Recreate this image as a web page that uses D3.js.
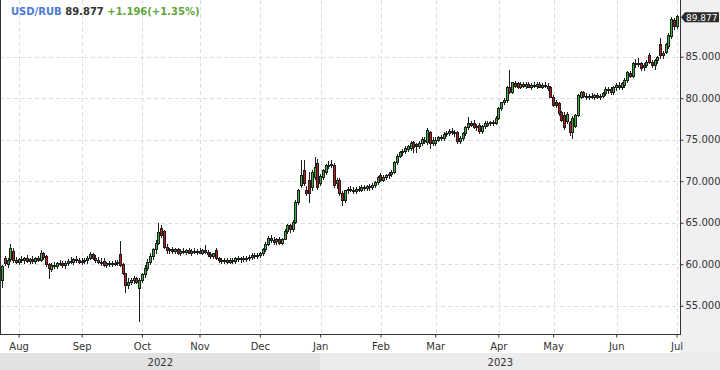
<!DOCTYPE html>
<html><head><meta charset="utf-8">
<script src="https://cdn.jsdelivr.net/npm/d3@7"></script>
<style>
body{margin:0;background:#fff;}
svg{display:block;font-family:"DejaVu Sans",Verdana,sans-serif;}
</style></head><body>
<svg id="chart" width="720" height="370"></svg>
<script>
// ---------- DATA ----------
const symbol = "USD/RUB";
const lastPrice = 89.877;
const changeText = "+1.196(+1.35%)";
const monthLabels = ["Aug","Sep","Oct","Nov","Dec","Jan","Feb","Mar","Apr","May","Jun","Jul"];
const yearLabels = ["2022","2023"];
const yTicks = [55,60,65,70,75,80,85];
const firstDay = "2022-07-22";

// daily candles [open, high, low, close], grouped by month (weekdays)
const jul22 = [[58.1,59.9,57.3,59.8],[60.7,61.0,59.9,60.1],[60.0,60.8,59.7,60.5],[60.6,62.5,60.4,61.9],[61.6,61.9,60.3,60.5],[60.5,60.9,60.1,60.3]];
const aug22 = [[60.3,60.8,60.0,60.6],[60.6,61.0,60.3,60.5],[60.5,60.9,60.2,60.7],[60.7,61.1,60.3,60.4],[60.4,60.8,60.1,60.6],[60.6,61.0,60.2,60.4],[60.4,60.9,60.2,60.7],[60.7,61.0,60.4,60.5],[60.5,61.7,60.4,61.3],[61.3,61.5,60.6,60.9],[61.0,61.1,59.8,60.0],[60.0,60.2,58.4,59.5],[59.4,60.2,59.2,59.9],[59.9,60.3,59.6,59.8],[59.8,60.3,59.5,60.1],[60.1,60.5,59.9,60.2],[60.2,60.4,59.7,59.9],[59.9,60.4,59.6,60.2],[60.2,60.6,59.9,60.4],[60.4,60.9,60.1,60.3],[60.3,60.8,60.0,60.6],[60.6,61.0,60.3,60.5],[60.5,60.8,60.1,60.3]];
const sep22 = [[60.3,60.7,60.0,60.4],[60.4,60.8,60.1,60.5],[60.5,61.0,60.2,60.8],[60.8,61.5,60.6,61.2],[61.2,61.4,60.6,60.8],[60.8,61.1,60.3,60.5],[60.5,60.9,60.1,60.3],[60.3,60.7,59.9,60.1],[60.4,60.7,59.8,59.9],[59.9,60.3,59.7,60.1],[60.1,60.4,59.8,60.0],[60.0,60.4,59.8,60.2],[60.2,60.5,59.9,60.1],[60.1,60.5,59.9,60.3],[61.2,62.8,59.8,59.9],[60.0,60.2,58.8,58.9],[58.9,59.0,56.6,57.5],[57.5,58.3,57.2,57.9],[57.9,58.4,57.6,58.1],[58.1,58.6,57.7,58.3],[58.3,58.5,57.8,57.9],[57.2,58.3,53.2,58.1]];
const oct22 = [[58.1,59.0,57.9,58.8],[58.8,59.9,58.5,59.6],[59.6,60.6,59.3,60.3],[60.3,61.3,60.0,61.0],[61.0,62.0,60.6,61.8],[61.8,62.9,61.4,62.6],[62.6,65.0,62.4,63.9],[64.4,64.7,63.3,63.5],[64.0,64.1,61.9,62.1],[62.1,62.4,61.4,61.7],[61.7,62.0,61.3,61.8],[61.8,62.1,61.4,61.6],[61.6,62.0,61.3,61.8],[61.8,62.0,61.2,61.4],[61.4,61.8,61.1,61.6],[61.6,61.9,61.3,61.5],[61.5,61.8,61.2,61.7],[61.7,62.0,61.3,61.4],[61.4,61.8,61.1,61.6],[61.6,61.9,61.3,61.5],[61.5,61.8,61.2,61.6]];
const nov22 = [[61.6,61.9,61.3,61.4],[61.4,61.8,61.2,61.7],[61.7,62.3,61.4,61.5],[61.5,61.7,61.0,61.2],[61.2,61.5,60.8,61.0],[61.0,61.4,60.8,61.3],[61.7,61.9,60.6,60.7],[60.7,60.9,60.3,60.5],[60.5,60.8,60.2,60.4],[60.4,60.7,60.1,60.5],[60.5,60.8,60.2,60.3],[60.3,60.7,60.1,60.5],[60.5,60.8,60.2,60.4],[60.4,60.9,60.2,60.7],[60.7,61.0,60.4,60.6],[60.6,60.9,60.3,60.7],[60.7,61.0,60.4,60.6],[60.6,61.0,60.4,60.8],[60.8,61.1,60.5,60.9],[60.9,61.3,60.6,61.1],[61.1,61.4,60.8,61.0],[61.0,61.3,60.7,61.1]];
const dec22 = [[61.1,61.5,60.9,61.3],[61.3,62.0,61.1,61.8],[61.8,62.7,61.6,62.5],[62.5,63.4,62.3,63.2],[63.2,63.5,62.7,62.9],[62.9,63.3,62.5,62.7],[62.8,63.2,62.4,63.0],[63.0,63.3,62.5,62.6],[62.6,63.2,62.4,63.1],[63.1,64.2,63.0,64.0],[64.0,64.9,63.8,64.7],[64.7,64.9,63.9,64.2],[64.2,65.3,64.0,65.1],[65.1,67.7,65.0,67.5],[67.5,69.1,67.3,68.9],[69.5,72.5,69.3,70.7],[71.3,72.5,69.6,69.8],[69.0,69.4,68.4,68.6],[70.1,71.1,67.5,68.6],[69.3,71.3,69.0,71.1],[70.5,72.9,70.3,71.7],[72.2,72.7,69.1,69.3]];
const jan23 = [[69.8,70.9,69.6,70.6],[70.5,71.5,70.3,71.35],[71.1,72.1,70.9,72.0],[72.0,72.4,71.6,71.9],[72.1,72.6,71.7,71.9],[71.9,72.2,69.3,69.5],[69.8,70.4,69.2,70.1],[70.1,70.4,68.4,68.6],[68.6,68.8,67.1,67.7],[67.8,69.0,67.5,68.9],[68.9,69.3,68.6,69.1],[69.1,69.4,68.8,69.0],[69.0,69.3,68.6,68.8],[68.8,69.3,68.6,69.1],[69.1,69.4,68.8,69.0],[69.0,69.5,68.8,69.3],[69.3,69.6,69.0,69.2],[69.2,69.6,68.9,69.4],[69.4,69.7,69.0,69.3],[69.3,69.8,69.1,69.6],[69.6,70.0,69.3,69.9],[69.9,70.6,69.7,70.5]];
const feb23 = [[70.8,71.0,70.0,70.2],[70.2,70.7,70.0,70.5],[70.5,70.9,70.3,70.7],[70.7,71.1,70.4,70.9],[70.9,71.3,70.6,71.1],[71.1,72.4,71.0,72.3],[72.3,73.3,72.1,73.1],[73.1,73.6,72.9,73.5],[73.5,73.9,73.2,73.6],[73.6,74.2,73.4,74.0],[73.9,74.4,73.6,74.2],[74.0,74.8,73.8,74.6],[74.7,74.9,73.5,74.1],[74.5,74.6,73.5,74.2],[74.2,74.8,74.0,74.6],[74.6,75.3,74.4,75.1],[74.8,75.3,74.6,75.0],[74.7,76.4,74.5,76.2],[75.9,76.1,74.0,74.6],[74.6,75.3,74.4,75.0]];
const mar23 = [[74.6,75.3,74.4,75.0],[75.0,75.5,74.8,75.3],[75.3,75.6,75.0,75.2],[75.2,75.9,75.0,75.7],[75.7,76.0,75.4,75.8],[75.8,76.3,75.6,76.1],[76.1,76.4,75.7,75.9],[75.9,76.2,75.5,75.8],[75.9,76.1,74.6,74.8],[74.8,75.4,74.6,75.2],[75.2,75.9,75.0,75.8],[75.8,76.6,75.6,76.5],[76.5,77.7,76.3,77.0],[77.0,77.3,76.6,76.8],[77.0,77.4,76.4,76.5],[76.5,76.9,76.2,76.7],[76.8,77.0,75.8,76.0],[76.0,76.8,75.8,76.6],[76.6,77.2,76.4,77.0],[76.8,77.3,76.6,77.0],[77.0,77.3,76.8,77.1],[77.0,77.4,76.8,77.1],[77.0,77.8,76.9,77.6]];
const apr23 = [[77.6,78.9,77.5,78.8],[78.8,79.6,78.6,79.5],[79.5,80.0,79.3,79.8],[79.8,81.5,79.6,81.3],[81.3,83.4,80.6,80.7],[80.8,82.0,80.6,81.9],[81.85,82.1,81.4,81.5],[81.8,82.0,81.2,81.4],[81.4,81.9,81.2,81.7],[81.7,82.0,81.3,81.5],[81.5,81.9,81.2,81.7],[81.7,82.0,81.3,81.4],[81.4,81.8,81.1,81.6],[81.6,82.0,81.3,81.5],[81.5,81.9,81.2,81.7],[81.7,81.9,81.3,81.4],[81.4,81.8,81.2,81.6],[81.6,81.9,81.3,81.5],[81.5,81.8,81.0,81.2],[81.3,81.5,80.1,80.2]];
const may23 = [[80.2,80.4,79.1,79.2],[79.5,79.8,79.0,79.2],[79.4,79.6,78.0,78.2],[78.3,78.5,77.2,77.4],[78.0,78.3,76.3,76.5],[77.2,78.3,77.0,78.1],[77.1,77.3,75.6,75.9],[75.9,77.8,75.2,77.6],[76.7,78.1,76.5,78.0],[78.0,80.5,77.8,80.4],[80.2,80.9,80.0,80.7],[80.7,80.9,80.1,80.3],[80.3,80.6,79.9,80.1],[80.1,80.5,79.9,80.3],[80.3,80.6,80.0,80.2],[80.2,80.5,79.9,80.4],[80.4,80.6,80.0,80.2],[80.2,80.5,79.9,80.3],[80.3,80.8,80.1,80.6],[80.6,81.3,80.4,81.1],[81.0,81.3,80.6,81.1],[81.1,81.3,80.5,80.7],[80.7,81.5,80.5,81.3]];
const jun23 = [[81.3,81.8,81.0,81.6],[81.6,81.9,81.1,81.3],[81.3,81.9,81.1,81.8],[81.6,82.4,81.4,82.2],[82.2,83.3,82.0,83.1],[83.0,83.3,82.5,82.7],[82.7,84.4,82.5,84.2],[84.2,84.7,83.8,84.3],[84.3,84.9,83.9,84.1],[84.2,84.4,83.4,83.6],[83.7,84.2,83.4,84.0],[84.0,84.6,83.7,84.4],[85.2,85.4,84.2,84.4],[84.4,84.6,83.7,84.0],[84.0,84.7,83.5,84.6],[84.6,85.1,84.2,85.0],[86.5,87.2,84.9,85.2],[85.2,85.7,84.9,85.5],[85.6,86.6,85.4,86.5],[86.3,87.8,86.1,87.6],[87.5,89.8,87.3,89.6],[89.4,89.7,88.3,88.681]];
const jul23 = [[88.7,90.0,88.4,89.877]];

const candles = [].concat(jul22, aug22, sep22, oct22, nov22, dec22, jan23, feb23, mar23, apr23, may23, jun23, jul23);

// trading-day dates (weekdays) for each candle
const dates = [];
for (let d = new Date(firstDay + "T12:00:00"); dates.length < candles.length; d.setDate(d.getDate() + 1)) {
  const wd = d.getDay();
  if (wd !== 0 && wd !== 6) dates.push(new Date(d));
}
const keys = dates.map(d => d3.timeFormat("%Y-%m-%d")(d));
const rows = candles.map((c, i) => ({key: keys[i], date: dates[i], o: c[0], h: c[1], l: c[2], c: c[3]}));

// ---------- LAYOUT ----------
const W = 720, H = 370;
const plotR = 680, plotB = 334, bandTop = 353;
const svg = d3.select("#chart");

const x = d3.scaleBand().domain(keys).range([1.26, 678.4]).padding(0);
const cx = k => x(k) + x.bandwidth() / 2;
const y = d3.scaleLinear().domain([51.6, 91.83]).range([plotB, 0]);

// backgrounds
svg.append("rect").attr("x", 0).attr("y", 0).attr("width", W).attr("height", H).attr("fill", "#fff");
svg.append("rect").attr("x", plotR).attr("y", 0).attr("width", W - plotR).attr("height", bandTop).attr("fill", "#f0f0f2");

// month ticks (first trading day of each month)
const monthTicks = rows.filter((r, i) => i > 0 && r.date.getMonth() !== rows[i - 1].date.getMonth());
const janTick = monthTicks.find(r => r.date.getMonth() === 0);

// gridlines
const grid = svg.append("g").attr("stroke", "#dedede").attr("stroke-dasharray", "4,3").attr("stroke-width", 1);
grid.selectAll(".hg").data(yTicks).join("line")
  .attr("x1", 0).attr("x2", plotR)
  .attr("y1", d => Math.round(y(d)) + 0.5).attr("y2", d => Math.round(y(d)) + 0.5);
grid.selectAll(".vg").data(monthTicks).join("line")
  .attr("x1", d => Math.round(cx(d.key)) + 0.5).attr("x2", d => Math.round(cx(d.key)) + 0.5)
  .attr("y1", 0).attr("y2", plotB);

// candles
const cg = svg.append("g");
const green = "#35b935", red = "#c4161c", edge = "#1e1e1e";
rows.forEach(r => {
  const X = Math.round(cx(r.key) - 1.5);
  cg.append("line")
    .attr("x1", X + 1.5).attr("x2", X + 1.5)
    .attr("y1", Math.round(y(r.h))).attr("y2", Math.round(y(r.l)) + 1)
    .attr("stroke", edge).attr("stroke-width", 1);
  const t = Math.round(y(Math.max(r.o, r.c)));
  let b = Math.round(y(Math.min(r.o, r.c)));
  if (b - t < 1) b = t + 1;
  cg.append("rect")
    .attr("x", X + 0.5).attr("y", t + 0.5)
    .attr("width", 2).attr("height", b - t)
    .attr("fill", r.c >= r.o ? green : red)
    .attr("stroke", edge).attr("stroke-width", 1);
});

// frame lines
svg.append("line").attr("x1", 0.5).attr("x2", 0.5).attr("y1", 0).attr("y2", plotB).attr("stroke", "#333");
svg.append("line").attr("x1", plotR + 0.5).attr("x2", plotR + 0.5).attr("y1", 0).attr("y2", plotB + 1).attr("stroke", "#333");
svg.append("line").attr("x1", 0).attr("x2", plotR + 1).attr("y1", plotB + 0.5).attr("y2", plotB + 0.5).attr("stroke", "#333");

// right axis
const ya = svg.append("g").attr("transform", `translate(${plotR + 0.5},0)`)
  .call(d3.axisRight(y).tickValues(yTicks).tickFormat(d3.format(".3f")).tickSize(3).tickPadding(2));
ya.select(".domain").remove();
ya.selectAll(".tick line").attr("stroke", "#333");
ya.selectAll(".tick text").attr("fill", "#333").attr("font-size", 10).attr("font-family", "DejaVu Sans, sans-serif");

// bottom axis
const xa = svg.append("g").attr("transform", `translate(0,${plotB + 0.5})`)
  .call(d3.axisBottom(x).tickValues(monthTicks.map(d => d.key))
    .tickFormat((k, i) => monthLabels[i]).tickSize(3).tickPadding(5));
xa.select(".domain").remove();
xa.selectAll(".tick line").attr("stroke", "#333");
xa.selectAll(".tick text").attr("fill", "#333").attr("font-size", 10).attr("font-family", "DejaVu Sans, sans-serif");

// year band
const janX = cx(janTick.key);
svg.append("rect").attr("x", 0).attr("y", bandTop).attr("width", janX).attr("height", H - bandTop).attr("fill", "#e2e2e2");
svg.append("rect").attr("x", janX).attr("y", bandTop).attr("width", W - janX).attr("height", H - bandTop).attr("fill", "#ececec");
svg.append("text").attr("x", janX / 2).attr("y", 365.5).attr("text-anchor", "middle")
  .attr("font-size", 10).attr("fill", "#333").text(yearLabels[0]);
svg.append("text").attr("x", (janX + plotR) / 2).attr("y", 365.5).attr("text-anchor", "middle")
  .attr("font-size", 10).attr("fill", "#333").text(yearLabels[1]);

// last price marker
const yp = y(lastPrice) + 1;
svg.append("path")
  .attr("d", `M${plotR + 1},${yp} L${plotR + 5},${yp - 5} L719,${yp - 5} L719,${yp + 5} L${plotR + 5},${yp + 5} Z`)
  .attr("fill", "#2a2a2a");
svg.append("text").attr("x", plotR + 6).attr("y", yp + 3.3).attr("font-size", 9).attr("fill", "#fff")
  .text(d3.format(".3f")(lastPrice));

// header
const ht = svg.append("text").attr("x", 11).attr("y", 15).attr("font-size", 10).attr("font-weight", "bold");
ht.append("tspan").attr("fill", "#4a7bd2").text(symbol + " ");
ht.append("tspan").attr("fill", "#333").text(d3.format(".3f")(lastPrice) + " ");
ht.append("tspan").attr("fill", "#5ea63a").text(changeText);
</script>
</body></html>
